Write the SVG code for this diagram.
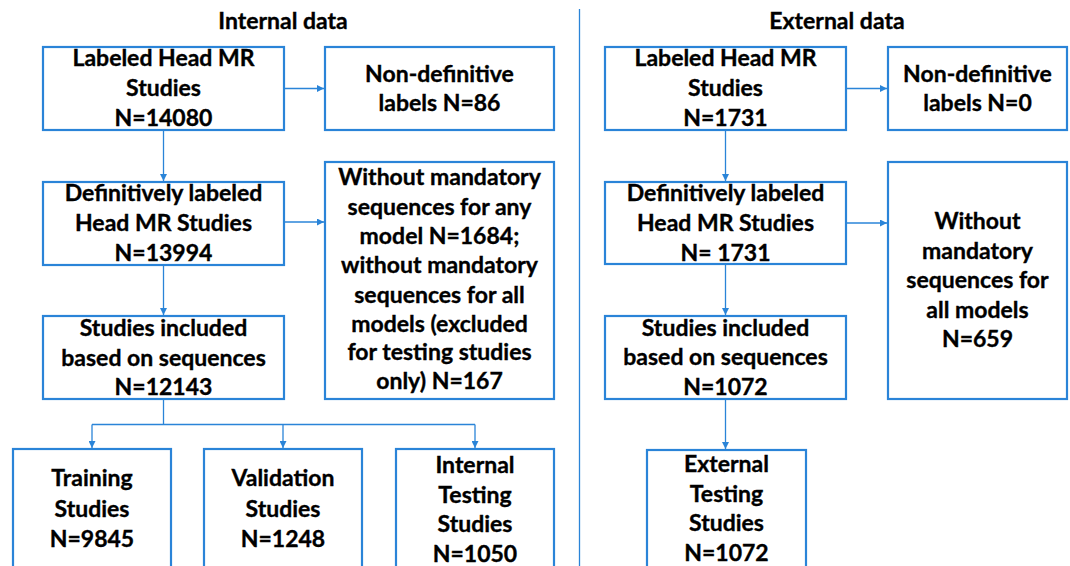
<svg xmlns="http://www.w3.org/2000/svg" width="1070" height="566" viewBox="0 0 1070 566">
<defs>
<marker id="ah" viewBox="0 0 10 10" refX="10" refY="5" markerWidth="7" markerHeight="7" markerUnits="userSpaceOnUse" orient="auto">
<path d="M0,0 L10,5 L0,10 z" fill="#2a84d8"/>
</marker>
<style>
.box{fill:#fff;stroke:#2a84d8;stroke-width:2.2}
.t{font-family:Lato,"Liberation Sans",sans-serif;font-weight:bold;font-size:23px;fill:#000;stroke:#000;stroke-width:0.35;text-anchor:middle}
.c{fill:none;stroke:#2a84d8;stroke-width:1.3}
.a{marker-end:url(#ah)}
</style>
</defs>
<rect width="1070" height="566" fill="#fff"/>
<line x1="579.5" y1="9" x2="579.5" y2="566" stroke="#2a84d8" stroke-width="1.3"/>
<text class="t" x="283" y="29">Internal data</text>
<text class="t" x="837" y="29">External data</text>

<g id="connectors">
<line class="c a" x1="163.5" y1="131" x2="163.5" y2="181"/>
<line class="c a" x1="285" y1="88.5" x2="324" y2="88.5"/>
<line class="c a" x1="285" y1="222" x2="324" y2="222"/>
<line class="c a" x1="163.5" y1="266" x2="163.5" y2="315"/>
<polyline class="c" points="163.5,400 163.5,424.5"/>
<polyline class="c" points="92,424.5 475,424.5"/>
<line class="c a" x1="92" y1="424.5" x2="92" y2="448"/>
<line class="c a" x1="283" y1="424.5" x2="283" y2="448"/>
<line class="c a" x1="475" y1="424.5" x2="475" y2="448"/>
<line class="c a" x1="725.5" y1="131" x2="725.5" y2="181"/>
<line class="c a" x1="847" y1="88.5" x2="887" y2="88.5"/>
<line class="c a" x1="847" y1="223" x2="887" y2="223"/>
<line class="c a" x1="725.5" y1="265" x2="725.5" y2="315"/>
<line class="c a" x1="725.5" y1="400" x2="725.5" y2="449"/>
</g>

<g id="int-labeled">
<rect class="box" x="43" y="47" width="241" height="83"/>
<text class="t" x="163.5" y="66">Labeled Head MR</text>
<text class="t" x="163.5" y="96">Studies</text>
<text class="t" x="163.5" y="126">N=14080</text>
</g>
<g id="int-nondef">
<rect class="box" x="325" y="47" width="229" height="83"/>
<text class="t" x="439.5" y="82">Non-definitive</text>
<text class="t" x="439.5" y="111">labels N=86</text>
</g>
<g id="int-definitive">
<rect class="box" x="43" y="182" width="241" height="83"/>
<text class="t" x="163.5" y="201">Definitively labeled</text>
<text class="t" x="163.5" y="231">Head MR Studies</text>
<text class="t" x="163.5" y="261">N=13994</text>
</g>
<g id="int-without">
<rect class="box" x="325" y="162" width="229" height="237"/>
<text class="t" x="439.5" y="185">Without mandatory</text>
<text class="t" x="439.5" y="215">sequences for any</text>
<text class="t" x="439.5" y="244">model N=1684;</text>
<text class="t" x="439.5" y="273">without mandatory</text>
<text class="t" x="439.5" y="303">sequences for all</text>
<text class="t" x="439.5" y="332">models (excluded</text>
<text class="t" x="439.5" y="360">for testing studies</text>
<text class="t" x="439.5" y="389">only) N=167</text>
</g>
<g id="int-included">
<rect class="box" x="43" y="316" width="241" height="83"/>
<text class="t" x="163.5" y="336">Studies included</text>
<text class="t" x="163.5" y="366">based on sequences</text>
<text class="t" x="163.5" y="395">N=12143</text>
</g>
<g id="training">
<rect class="box" x="13" y="449" width="158" height="130"/>
<text class="t" x="92" y="486">Training</text>
<text class="t" x="92" y="517">Studies</text>
<text class="t" x="92" y="547">N=9845</text>
</g>
<g id="validation">
<rect class="box" x="204" y="449" width="158" height="130"/>
<text class="t" x="283" y="486">Validation</text>
<text class="t" x="283" y="517">Studies</text>
<text class="t" x="283" y="547">N=1248</text>
</g>
<g id="int-testing">
<rect class="box" x="396" y="449" width="158" height="130"/>
<text class="t" x="475" y="473">Internal</text>
<text class="t" x="475" y="503">Testing</text>
<text class="t" x="475" y="532">Studies</text>
<text class="t" x="475" y="562">N=1050</text>
</g>

<g id="ext-labeled">
<rect class="box" x="605" y="47" width="241" height="83"/>
<text class="t" x="725.5" y="66">Labeled Head MR</text>
<text class="t" x="725.5" y="96">Studies</text>
<text class="t" x="725.5" y="126">N=1731</text>
</g>
<g id="ext-nondef">
<rect class="box" x="888" y="47" width="179" height="83"/>
<text class="t" x="977.5" y="82">Non-definitive</text>
<text class="t" x="977.5" y="111">labels N=0</text>
</g>
<g id="ext-definitive">
<rect class="box" x="605" y="182" width="241" height="82"/>
<text class="t" x="725.5" y="201">Definitively labeled</text>
<text class="t" x="725.5" y="231">Head MR Studies</text>
<text class="t" x="725.5" y="261">N= 1731</text>
</g>
<g id="ext-without">
<rect class="box" x="888" y="162" width="179" height="237"/>
<text class="t" x="977.5" y="229">Without</text>
<text class="t" x="977.5" y="259">mandatory</text>
<text class="t" x="977.5" y="288">sequences for</text>
<text class="t" x="977.5" y="318">all models</text>
<text class="t" x="977.5" y="347">N=659</text>
</g>
<g id="ext-included">
<rect class="box" x="605" y="316" width="241" height="83"/>
<text class="t" x="725.5" y="336">Studies included</text>
<text class="t" x="725.5" y="365">based on sequences</text>
<text class="t" x="725.5" y="395">N=1072</text>
</g>
<g id="ext-testing">
<rect class="box" x="647" y="450" width="159" height="130"/>
<text class="t" x="726.5" y="472">External</text>
<text class="t" x="726.5" y="502">Testing</text>
<text class="t" x="726.5" y="531">Studies</text>
<text class="t" x="726.5" y="561">N=1072</text>
</g>
</svg>
